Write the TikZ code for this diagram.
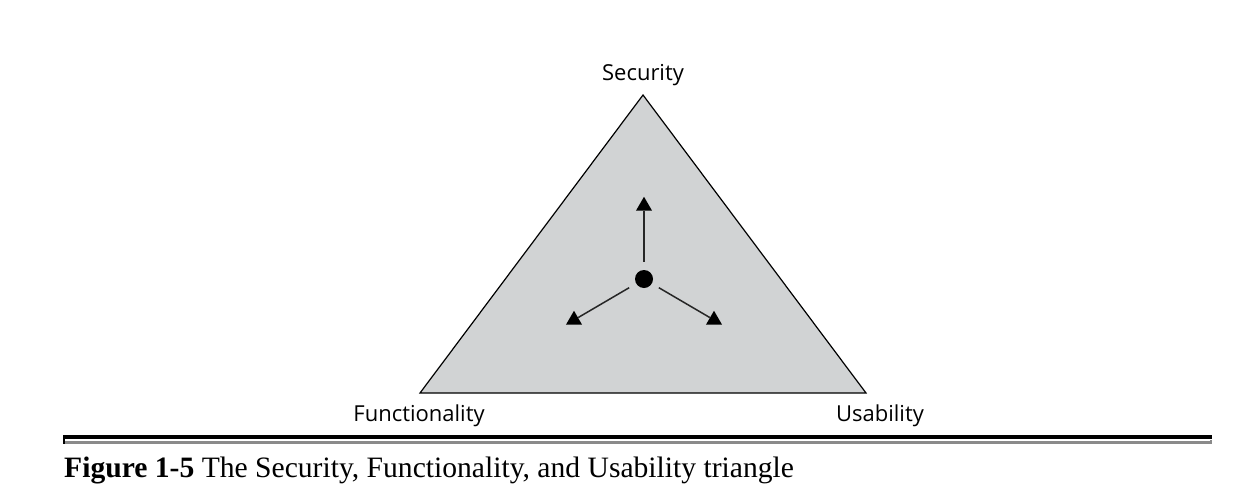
\documentclass[tikz,border=0pt]{standalone}
\usepackage{fontspec}
\setmainfont{Liberation Serif}
\newfontfamily\cornerfont{Open Sans}
\usetikzlibrary{shapes.geometric}
\definecolor{trigray}{HTML}{D1D3D4}
\definecolor{rulegray}{HTML}{8A8A8A}
\tikzset{
% Node styles for the triangle: corner labels, centre dot and pointers
corner label/.style={font=\cornerfont\fontsize{22}{26}\selectfont,inner sep=0,anchor=base},
centre dot/.style={circle,fill=black,inner sep=0,minimum size=18},
pointer/.style={regular polygon,regular polygon sides=3,fill=black,inner sep=0,minimum size=18.5},
pull line/.style={draw=black!85,line width=1.5,shorten <=8}
}
\begin{document}
\begin{tikzpicture}[x=1pt,y=-1pt]
      \useasboundingbox (0,0) rectangle (1247,498);
      % The triangle
      \coordinate (S) at (643,95);
      \coordinate (F) at (420,393);
      \coordinate (U) at (866,393);
      \draw[fill=trigray,line width=1.2] (S) -- (F) -- (U) -- cycle;
      % corner labels
      \node(sec)[corner label] at (643,80) {Security};
      \node(fun)[corner label] at (419,421) {Functionality};
      \node(usa)[corner label] at (880,421) {Usability};
      % dot in the middle and the three pointers
      \node(mid)[centre dot] at (644,279) {};
      \node(up)[pointer] at (644,206) {};
      \node(left)[pointer] at (574,320) {};
      \node(right)[pointer] at (714,320) {};
      \draw[pull line] (mid) -- (up);
      \draw[pull line] (mid) -- (left);
      \draw[pull line] (mid) -- (right);
      % double rule and caption
      \draw[line width=4.3] (64,437) -- (1212,437);
      \draw[rulegray,line width=3.3] (64,442.5) -- (1210,442.5);
      \draw[line width=1.5] (64,435) -- (64,444);
      \draw[rulegray,line width=1.2] (1211,440) -- (1211,444);
      \node(cap)[anchor=base west,inner sep=0,font=\fontsize{29.6}{34}\selectfont] at (64,477)
        {\textbf{Figure 1-5} The Security, Functionality, and Usability triangle};
\end{tikzpicture}
\end{document}
